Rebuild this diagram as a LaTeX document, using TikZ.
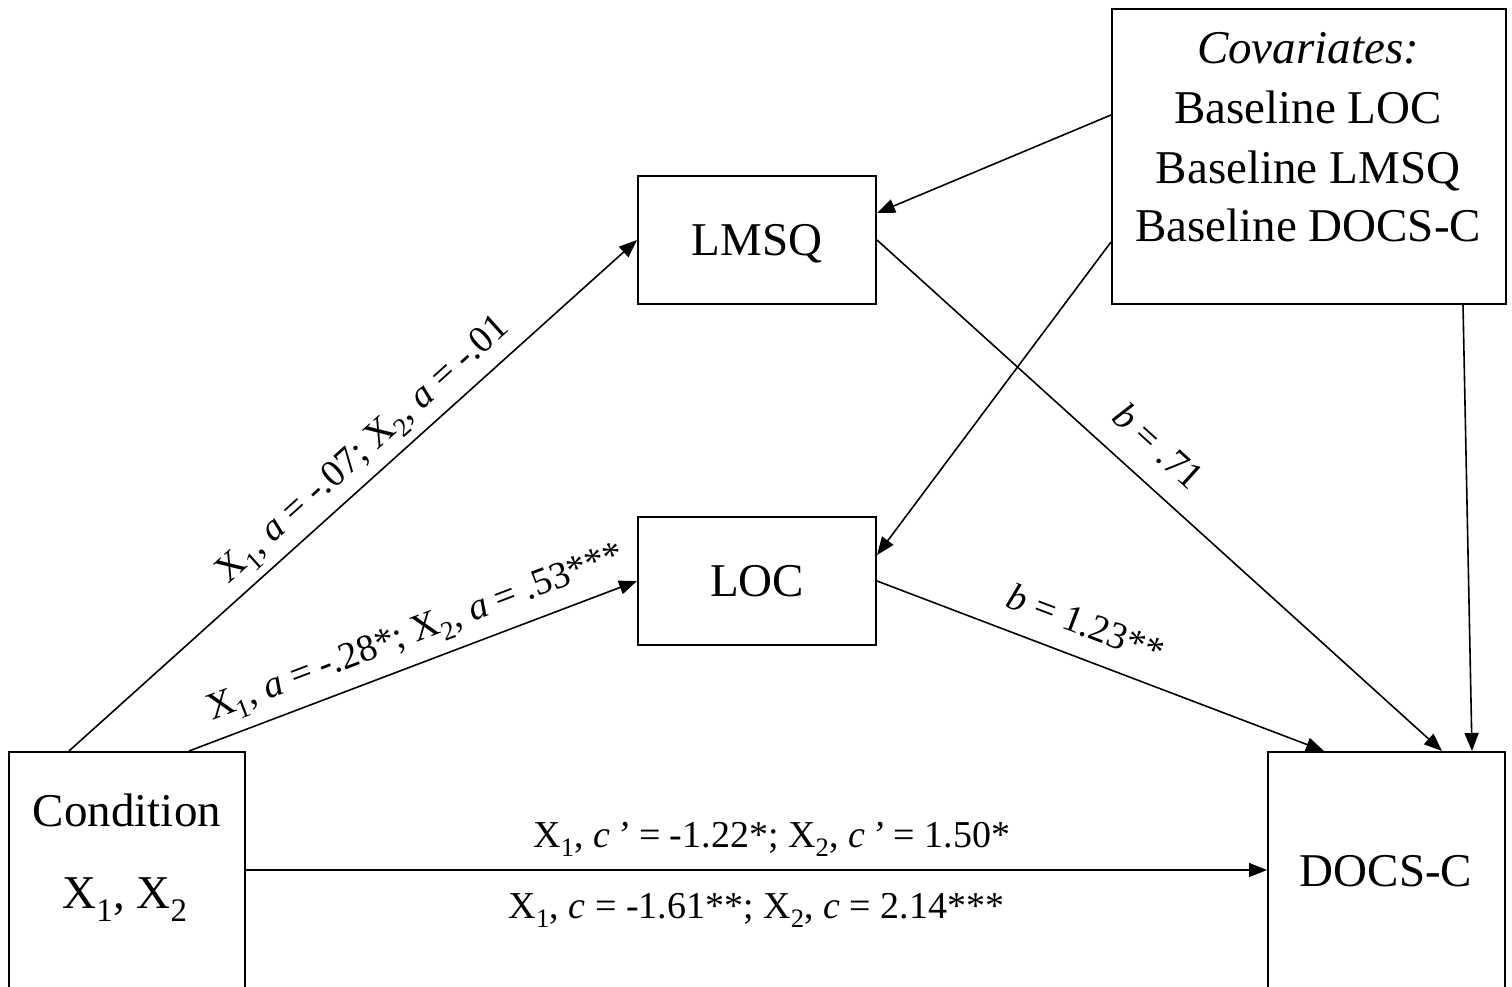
\documentclass[tikz,border=0pt]{standalone}
\usepackage{fontspec}
\setmainfont{Liberation Serif}
\usetikzlibrary{arrows.meta}
\begin{document}
\begin{tikzpicture}[x=1pt,y=-1pt,
  boxnode/.style={draw, line width=2pt, inner sep=0pt, font=\fontsize{47}{56}\selectfont, text height=31pt, text depth=0pt},
  frame/.style={draw, line width=2pt, inner sep=0pt},
  textnode/.style={inner sep=0pt, anchor=base, font=\fontsize{47}{56}\selectfont},
  conn/.style={line width=1.6pt, -{Triangle[length=18pt,width=14pt]}},
  lbl/.style={font=\fontsize{38}{42}\selectfont, inner sep=0pt, text height=26.6pt, text depth=7.6pt, sloped}]
\useasboundingbox (0,0) rectangle (1512,986);
% boxes
\node[boxnode, minimum width=238pt, minimum height=128pt] (lmsq) at (757,240) {LMSQ};
\node[boxnode, minimum width=238pt, minimum height=128pt] (loc) at (757,581) {LOC};
\node[frame, minimum width=236pt, minimum height=236pt] (cond) at (127,870) {};
\node[textnode] (condtxt) at (127,826) {Condition};
\node[textnode] (condx) at (125,908) {X\textsubscript{1}, X\textsubscript{2}};
\node[frame, minimum width=237pt, minimum height=236pt] (docs) at (1386.5,870) {};
\node[textnode] (docstxt) at (1386,886) {DOCS-C};
\node[frame, minimum width=394pt, minimum height=295pt] (cov) at (1309,156.5) {};
\node[textnode] (cov0) at (1308,63) {\itshape Covariates:};
\node[textnode] (cov1) at (1308,123) {Baseline LOC};
\node[textnode] (cov2) at (1308,183) {Baseline LMSQ};
\node[textnode] (cov3) at (1308,241) {Baseline DOCS-C};
% connectors
\draw[conn] ([xshift=61pt]cond.north west) -- (lmsq.west)
  node[lbl, pos=0.55, above=9pt] {X\textsubscript{1}, \textit{a} = -.07; X\textsubscript{2}, \textit{a} = -.01};
\draw[conn] ([xshift=181pt]cond.north west) -- (loc.west)
  node[lbl, pos=0.53, above=12pt] {X\textsubscript{1}, \textit{a} = -.28*; X\textsubscript{2}, \textit{a} = .53***};
\draw[conn] (lmsq.east) -- ([xshift=175pt]docs.north west)
  node[lbl, pos=0.456, above=15pt] {\textit{b} = .71};
\draw[conn] (loc.east) -- ([xshift=57pt]docs.north west)
  node[lbl, pos=0.44, above=13pt] {\textit{b} = 1.23**};
\draw[conn] (cond.east) -- (docs.west)
  node[lbl, pos=0.515, above=14pt] {X\textsubscript{1}, \textit{c\,’} = -1.22*; X\textsubscript{2}, \textit{c\,’} = 1.50*}
  node[lbl, pos=0.5, below=21.5pt] {X\textsubscript{1}, \textit{c} = -1.61**; X\textsubscript{2}, \textit{c} = 2.14***};
\draw[conn] ([yshift=41.5pt]cov.west) -- ([yshift=27pt]lmsq.east);
\draw[conn] ([yshift=-85.5pt]cov.west) -- ([yshift=26pt]loc.east);
\draw[conn] ([xshift=352pt]cov.south west) -- ([xshift=205pt]docs.north west);
\end{tikzpicture}
\end{document}
